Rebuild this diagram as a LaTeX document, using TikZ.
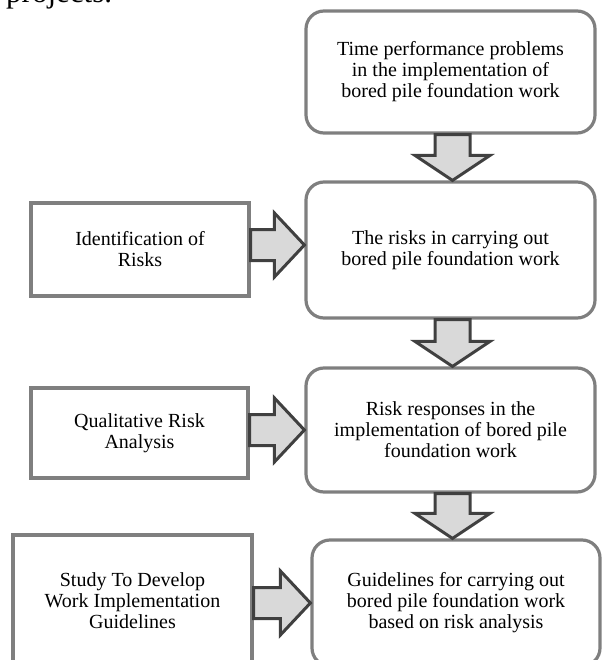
\documentclass[tikz,border=0pt]{standalone}
\usepackage{fontspec}
\setmainfont{Liberation Serif}
\usetikzlibrary{calc}
\definecolor{boxgray}{HTML}{7F7F7F}
\definecolor{arrowgray}{HTML}{404040}
\definecolor{arrowfill}{HTML}{D9D9D9}
\newcommand\downblock[3]{%
  \draw[barrow] let \p1=(#1.south), \p2=(#2.north) in
    (\x1+#3-17.5pt,\y1) -- (\x1+#3+17.5pt,\y1) -- (\x1+#3+17.5pt,\y2+25pt)
    -- (\x1+#3+37.5pt,\y2+25pt) -- (\x1+#3,\y2) -- (\x1+#3-37.5pt,\y2+25pt)
    -- (\x1+#3-17.5pt,\y2+25pt) -- cycle;}
\newcommand\rightblock[3]{%
  \draw[barrow] let \p1=(#1.east), \p2=(#2.west) in
    (\x1,\y2+#3+15.5pt) -- (\x2-30pt,\y2+#3+15.5pt) -- (\x2-30pt,\y2+#3+32pt)
    -- (\x2,\y2+#3) -- (\x2-30pt,\y2+#3-32pt) -- (\x2-30pt,\y2+#3-15.5pt)
    -- (\x1,\y2+#3-15.5pt) -- cycle;}
\begin{document}
\begin{tikzpicture}[x=1pt,y=-1pt,
  txt/.style={font=\fontsize{20}{21}\selectfont},
  rbox/.style={txt, draw=boxgray, line width=3.2pt, rounded corners=18pt, fill=white, align=center, inner sep=0pt},
  sbox/.style={txt, draw=boxgray, line width=3.4pt, fill=white, align=center, inner sep=0pt},
  barrow/.style={draw=arrowgray, fill=arrowfill, line width=3pt, line join=miter}]
\useasboundingbox (0,0) rectangle (603,660);
\node[anchor=base west, inner sep=0pt, font=\fontsize{31}{33}\selectfont] (head) at (6,2.5) {projects.};
\node[rbox, minimum width=289pt, minimum height=122pt] (b1) at (450.5,72) {Time performance problems\\in the implementation of\\bored pile foundation work};
\node[rbox, minimum width=289pt, minimum height=136pt] (b2) at (450.5,250) {The risks in carrying out\\bored pile foundation work};
\node[rbox, minimum width=289pt, minimum height=124pt] (b3) at (450.5,430) {Risk responses in the\\implementation of bored pile\\foundation work};
\node[rbox, minimum width=288pt, minimum height=126pt] (b4) at (456,603) {Guidelines for carrying out\\bored pile foundation work\\based on risk analysis};
\node[sbox, minimum width=218pt, minimum height=93pt] (l1) at (140,249.5) {Identification of\\Risks};
\node[sbox, minimum width=217pt, minimum height=90pt] (l2) at (139.5,433) {Qualitative Risk\\Analysis};
\node[sbox, minimum width=239pt, minimum height=132pt] (l3) at (132.5,601) {Study To Develop\\Work Implementation\\Guidelines};
\downblock{b1}{b2}{2pt}
\downblock{b2}{b3}{2pt}
\downblock{b3}{b4}{2pt}
\rightblock{l1}{b2}{5pt}
\rightblock{l2}{b3}{0pt}
\rightblock{l3}{b4}{0pt}
\end{tikzpicture}
\end{document}
